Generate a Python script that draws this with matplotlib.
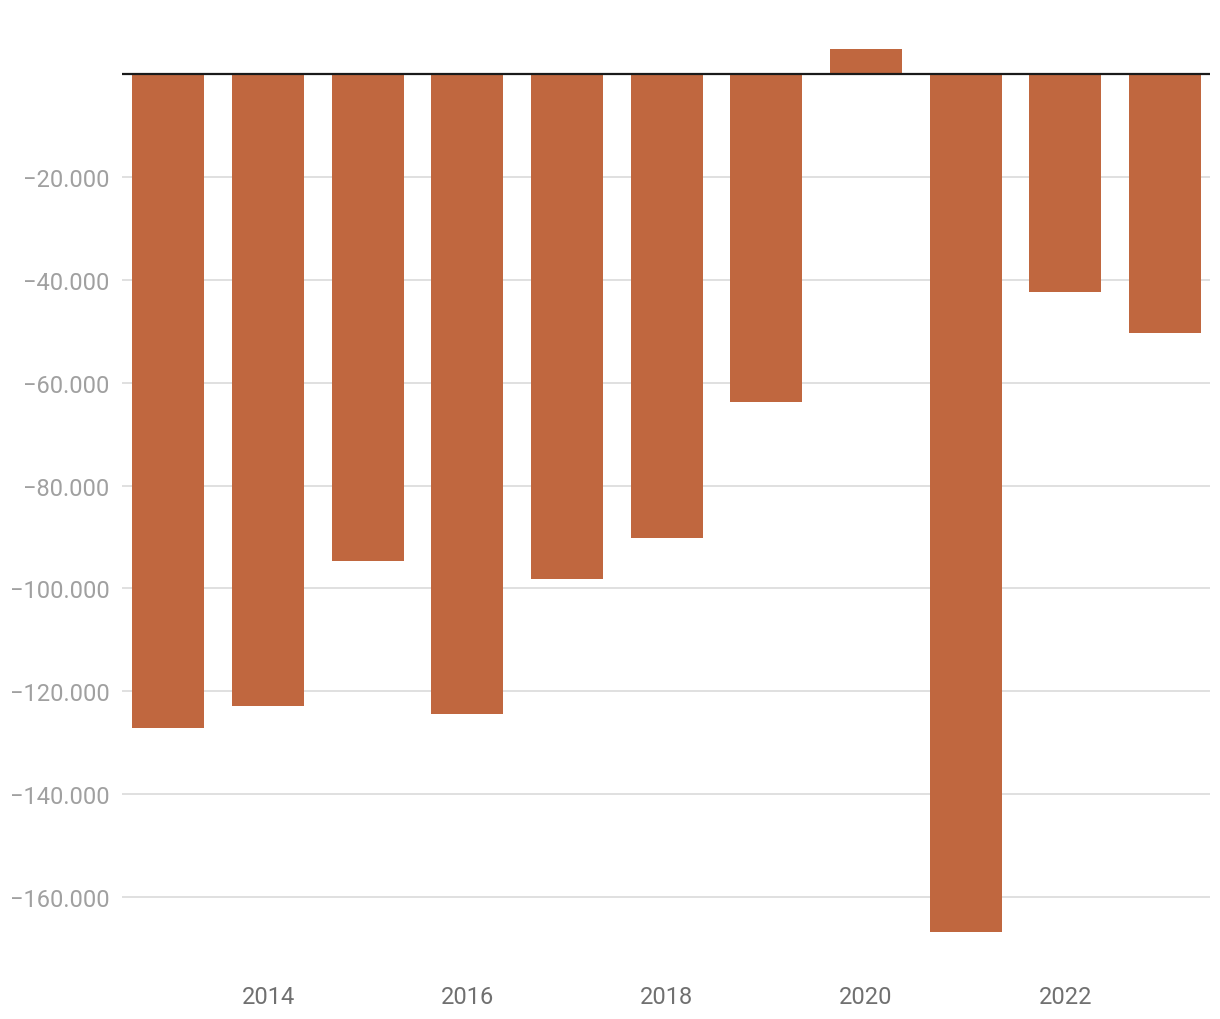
import matplotlib.pyplot as plt
from matplotlib.ticker import FuncFormatter

plt.rcParams['font.family'] = ['Roboto', 'DejaVu Sans']

years = [2013, 2014, 2015, 2016, 2017, 2018, 2019, 2020, 2021, 2022, 2023]
values = [-127100, -122800, -94700, -124300, -98200, -90100, -63800, 4900, -166800, -42400, -50300]
y_ticks = [-20000, -40000, -60000, -80000, -100000, -120000, -140000, -160000]
x_ticks = [2014, 2016, 2018, 2020, 2022]

fig = plt.figure(figsize=(12.2, 10.2), dpi=100)
ax = fig.add_axes([122/1220, 58/1020, (1210-122)/1220, 940/1020])

ax.bar(years, values, width=0.722, color='#C0673F', zorder=2)
ax.axhline(0, color='#1a1a1a', lw=1.6, zorder=3)

ax.set_xlim(2012.535, 2023.45)
ax.set_ylim(-172400, 10300)
ax.set_yticks(y_ticks)
ax.set_xticks(x_ticks)

def fmt(v, pos):
    s = f'{abs(int(v)):,}'.replace(',', '.')
    return ('\u2212' + s) if v < 0 else s

ax.yaxis.set_major_formatter(FuncFormatter(fmt))
ax.grid(axis='y', color='#e0e0e0', lw=1.4, zorder=0)
ax.tick_params(axis='y', length=0, pad=9, labelsize=17, labelcolor='#a0a0a0')
ax.tick_params(axis='x', length=0, pad=17, labelsize=17, labelcolor='#707070')
for s in ax.spines.values():
    s.set_visible(False)

fig.savefig('out.png', dpi=100)
